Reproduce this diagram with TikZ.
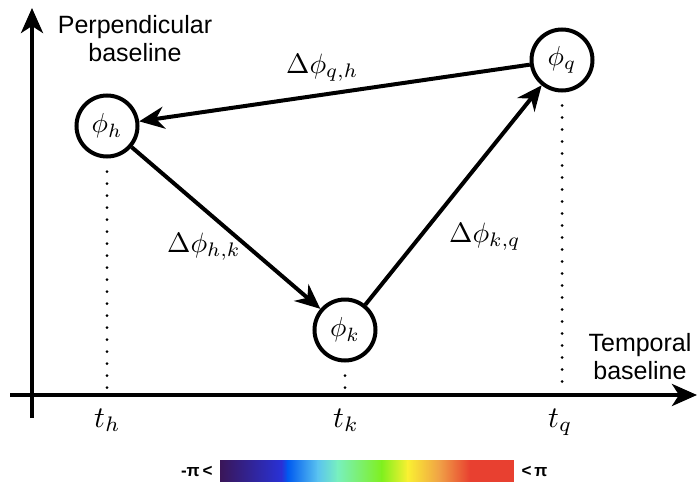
\documentclass[tikz,border=0pt]{standalone}
\usepackage{graphicx}
\usepackage{fontspec}
\setsansfont{Liberation Sans}
\usetikzlibrary{arrows.meta}
\definecolor{c0}{RGB}{58,22,88}
\definecolor{c1}{RGB}{40,50,215}
\definecolor{c2}{RGB}{0,90,240}
\definecolor{c3}{RGB}{90,195,240}
\definecolor{c4}{RGB}{120,240,190}
\definecolor{c5}{RGB}{128,240,30}
\definecolor{c6}{RGB}{250,240,50}
\definecolor{c7}{RGB}{240,160,70}
\definecolor{c8}{RGB}{232,64,48}
\newcommand{\nodemath}[1]{\scalebox{2.75}{$#1$}}
\newcommand{\edgemath}[1]{\scalebox{2.8}{$#1$}}
\newcommand{\tmath}[1]{\scalebox{3.0}{$#1$}}
\begin{document}
\begin{tikzpicture}[x=1pt,y=-1pt,
  phase/.style={circle,draw,line width=4pt,minimum size=61pt,inner sep=0pt},
  link/.style={line width=4pt,-{Stealth[length=25pt,width=22pt,inset=8pt]}},
  axis/.style={line width=4pt,-{Stealth[length=25pt,width=22pt,inset=7pt]}},
  dots/.style={line width=3pt,dash pattern=on 0pt off 12pt,line cap=round},
  axlabel/.style={font=\sffamily\fontsize{25}{28}\selectfont,align=center},
  pilabel/.style={font=\sffamily\bfseries\fontsize{17}{20}\selectfont},
  mlabel/.style={anchor=base west,inner sep=0pt}]
\useasboundingbox (0,0) rectangle (697,482);
% axes
\coordinate (ybot) at (32,418);
\coordinate (ytop) at (32,8);
\coordinate (xleft) at (10,395);
\coordinate (xright) at (697,395);
\draw[axis] (ybot) -- (ytop);
\draw[axis] (xleft) -- (xright);
\node[axlabel,anchor=north] (yl) at (135,12) {Perpendicular\\baseline};
\node[axlabel,anchor=south] (xl) at (640,383) {Temporal\\baseline};
% nodes
\node[phase] (h) at (107,126) {\nodemath{\phi_h}};
\node[phase] (k) at (345,330) {\nodemath{\phi_k}};
\node[phase] (q) at (562,60) {\nodemath{\phi_q}};
% dotted projections
\coordinate (hb) at (107,390);
\coordinate (kb) at (345,390);
\coordinate (qb) at (562,390);
\draw[dots] ([yshift=-13pt]h.south) -- (hb);
\draw[dots] ([yshift=-13pt]k.south) -- (kb);
\draw[dots] ([yshift=-13pt]q.south) -- (qb);
% time labels
\node[mlabel] (th) at (94,427) {\tmath{t_h}};
\node[mlabel] (tk) at (333,427) {\tmath{t_k}};
\node[mlabel] (tq) at (548,427) {\tmath{t_q}};
% arrows
\draw[link] (q) -- (h);
\draw[link] (h) -- (k);
\draw[link] (k) -- (q);
\node[mlabel] (lqh) at (286,73) {\edgemath{\Delta\phi_{q,h}}};
\node[mlabel] (lhk) at (167,252) {\edgemath{\Delta\phi_{h,k}}};
\node[mlabel] (lkq) at (449,242) {\edgemath{\Delta\phi_{k,q}}};
% colour bar
\def\cy{460}\def\ch{482}
\shade[left color=c0,right color=c1] (220,\cy) rectangle (282,\ch);
\shade[left color=c1,right color=c2] (281.5,\cy) rectangle (288,\ch);
\shade[left color=c2,right color=c3] (287.5,\cy) rectangle (318,\ch);
\shade[left color=c3,right color=c4] (317.5,\cy) rectangle (338,\ch);
\shade[left color=c4,right color=c5] (337.5,\cy) rectangle (382,\ch);
\shade[left color=c5,right color=c6] (381.5,\cy) rectangle (408,\ch);
\shade[left color=c6,right color=c7] (407.5,\cy) rectangle (440,\ch);
\shade[left color=c7,right color=c8] (439.5,\cy) rectangle (470,\ch);
\fill[c8] (469.5,\cy) rectangle (514,\ch);
\node[pilabel,anchor=east] (mpi) at (216,471) {-π\,<};
\node[pilabel,anchor=west] (ppi) at (518,471) {<\,π};
\end{tikzpicture}
\end{document}
